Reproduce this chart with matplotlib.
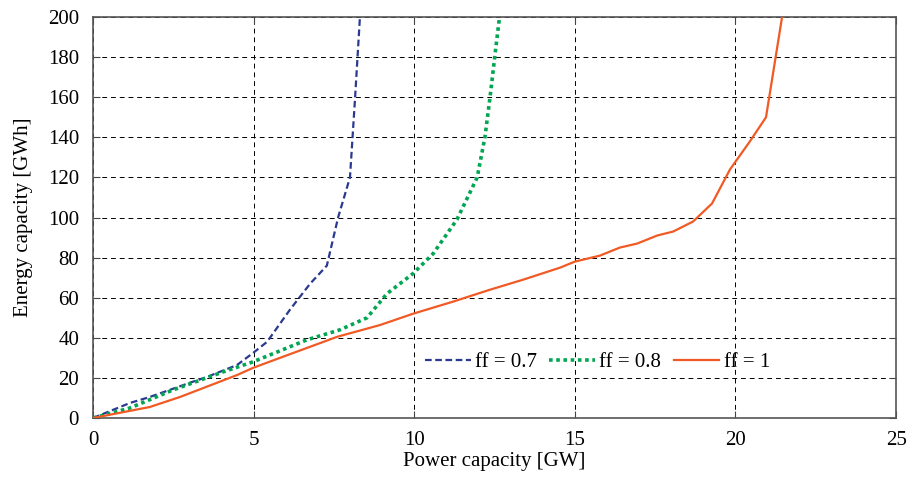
import numpy as np
import matplotlib
matplotlib.use('Agg')
import matplotlib.pyplot as plt

plt.rcParams['font.family'] = ['Liberation Serif', 'DejaVu Serif']

#####################################################################
# data
#####################################################################
p_07 = [0, 1.15, 1.77, 3.0, 3.55, 4.48, 4.98, 5.42, 6.13, 6.76, 7.28, 7.63, 8.0, 8.16, 8.31, 8.4]
e_07 = [0, 7.5, 10.5, 17.5, 20.5, 26.4, 32.4, 38, 54, 67, 76, 100, 120, 160, 200, 220]

p_08 = [0, 1.15, 2.49, 4.05, 4.98, 6.66, 7.69, 8.53, 9.15, 9.96, 10.59, 11.33, 11.96, 12.2, 12.36, 12.52, 12.64, 12.7]
e_08 = [0, 5, 14, 23, 28, 39, 44, 50, 62, 72, 82, 99, 120, 140, 160, 182, 198, 210]

p_10 = [0, 1.77, 2.71, 4.48, 4.98, 5.82, 7.6, 8.94, 9.96, 11.2, 12.36, 13.39, 14.54, 15.0,
        15.78, 16.4, 16.94, 17.56, 18.06, 18.68, 19.27, 19.83, 20.45, 20.95, 21.45, 21.6]
e_10 = [0, 5.5, 10.5, 21.4, 25, 30, 40.5, 46.4, 52, 58, 64, 69, 75, 78,
        81, 85, 87, 91, 93, 98, 107, 124, 138, 150, 200, 215]

#####################################################################
# plot
#####################################################################
fig = plt.figure(figsize=(9.07, 4.79), dpi=100)
ax = fig.add_axes([0.1025, 0.1273, 0.8855, 0.8372])

ax.plot(p_07, e_07, color='#2b3990', lw=1.6, ls=(0, (3.0, 1.6)), label='ff = 0.7', zorder=3)
ax.plot(p_08, e_08, color='#00a651', lw=2.6, ls=(0, (1.0, 1.0)), label='ff = 0.8', zorder=3)
ax.plot(p_10, e_10, color='#f15a24', lw=1.6, ls='-', label='ff = 1', zorder=3)

ax.set_xlim(0, 25)
ax.set_ylim(0, 200)
ax.set_xticks(np.arange(0, 26, 5))
ax.set_yticks(np.arange(0, 201, 20))
ax.grid(True, color='black', lw=0.7, ls=(0, (5, 4)))
ax.tick_params(direction='in', top=True, right=True, labelsize=15, length=5, color='#444444')
ax.tick_params(axis='y', pad=10)
ax.tick_params(axis='x', pad=9)
for s in ax.spines.values():
    s.set_color('#555555')
    s.set_linewidth(1.2)

ax.set_xlabel('Power capacity [GW]', fontsize=15, labelpad=2)
ax.set_ylabel('Energy capacity [GWh]', fontsize=15, labelpad=11)

ax.legend(loc='center left', bbox_to_anchor=(0.413, 0.138), ncol=3, frameon=False,
          fontsize=15, handlelength=2.2, columnspacing=0.6, handletextpad=0.2,
          borderpad=0, borderaxespad=0)

plt.savefig('out.png', dpi=100)
